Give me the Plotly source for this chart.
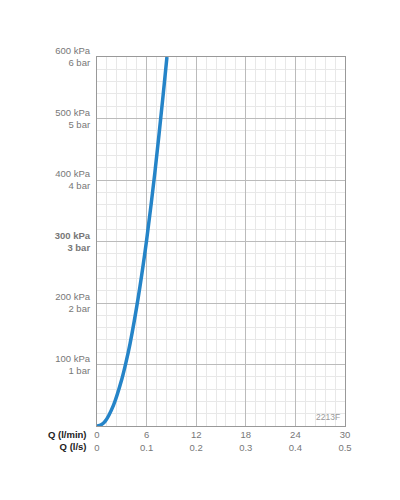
import plotly.graph_objects as go

flow_lpm = [0, 0.5, 1, 2, 3, 3.5, 4, 5, 6, 7, 8, 8.46]
pressure_kpa = [0, 2, 8, 34, 76, 103, 134, 210, 302, 412, 538, 600]
x_ticks = [0, 6, 12, 18, 24, 30]
x_ticks_ls = ["0", "0.1", "0.2", "0.3", "0.4", "0.5"]
y_ticks = [100, 200, 300, 400, 500, 600]
y_labels = ["100 kPa<br>1 bar", "200 kPa<br>2 bar", "<b>300 kPa<br>3 bar</b>",
            "400 kPa<br>4 bar", "500 kPa<br>5 bar", "600 kPa<br>6 bar"]

fig = go.Figure()
fig.add_trace(go.Scatter(x=flow_lpm, y=pressure_kpa, mode="lines",
                         line=dict(color="#2584c8", width=3.5, shape="spline", smoothing=0.8),
                         hoverinfo="skip"))
grey = "#777"
fig.update_layout(
    width=400, height=500, margin=dict(l=89, r=63, t=49, b=82),
    paper_bgcolor="white", plot_bgcolor="white", showlegend=False,
    font=dict(family="Liberation Sans, Arial", size=9.5, color=grey),
    xaxis=dict(range=[0, 30], tickvals=x_ticks,
               ticktext=[f"{a}<br>{b}" for a, b in zip(x_ticks, x_ticks_ls)],
               showgrid=True, gridcolor="#bbb", gridwidth=1,
               minor=dict(dtick=1.2, showgrid=True, gridcolor="#e8e8e8"),
               showline=True, linecolor="#999", mirror=True, zeroline=False,
               ticks="", fixedrange=True),
    yaxis=dict(range=[0, 600], tickvals=y_ticks, ticktext=y_labels,
               showgrid=True, gridcolor="#bbb",
               minor=dict(dtick=20, showgrid=True, gridcolor="#e8e8e8"),
               showline=True, linecolor="#999", mirror=True, zeroline=False,
               ticks="", ticklabelstandoff=4, fixedrange=True),
)
fig.add_annotation(x=0, y=0, xref="paper", yref="paper", text="<b>Q (l/min)<br>Q (l/s)</b>",
                   showarrow=False, xanchor="right", yanchor="top", xshift=-8, yshift=-1,
                   font=dict(size=9.5, color="#222"), align="right")
fig.add_annotation(x=1, y=0, xref="paper", yref="paper", text="2213F",
                   showarrow=False, xanchor="right", yanchor="bottom", xshift=-3, yshift=2,
                   font=dict(size=8.5, color="#999"))
fig.write_html("out.html")
